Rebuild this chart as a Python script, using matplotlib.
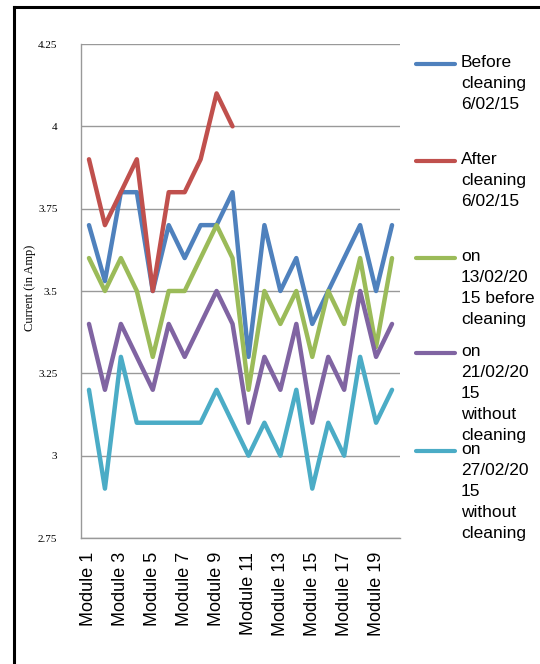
import matplotlib
matplotlib.use("Agg")
import matplotlib.pyplot as plt
from matplotlib.lines import Line2D

# categories
modules = ["Module %d" % i for i in range(1, 21)]

# series values (Amp)
before_0602 = [3.7, 3.53, 3.8, 3.8, 3.5, 3.7, 3.6, 3.7, 3.7, 3.8,
               3.3, 3.7, 3.5, 3.6, 3.4, 3.5, 3.6, 3.7, 3.5, 3.7]
after_0602 = [3.9, 3.7, 3.8, 3.9, 3.5, 3.8, 3.8, 3.9, 4.1, 4.0]
on_1302 = [3.6, 3.5, 3.6, 3.5, 3.3, 3.5, 3.5, 3.6, 3.7, 3.6,
           3.2, 3.5, 3.4, 3.5, 3.3, 3.5, 3.4, 3.6, 3.33, 3.6]
on_2102 = [3.4, 3.2, 3.4, 3.3, 3.2, 3.4, 3.3, 3.4, 3.5, 3.4,
           3.1, 3.3, 3.2, 3.4, 3.1, 3.3, 3.2, 3.5, 3.3, 3.4]
on_2702 = [3.2, 2.9, 3.3, 3.1, 3.1, 3.1, 3.1, 3.1, 3.2, 3.1,
           3.0, 3.1, 3.0, 3.2, 2.9, 3.1, 3.0, 3.3, 3.1, 3.2]

series = [before_0602, after_0602, on_1302, on_2102, on_2702]
labels = ["Before\ncleaning\n6/02/15",
          "After\ncleaning\n6/02/15",
          "on\n13/02/20\n15 before\ncleaning",
          "on\n21/02/20\n15\nwithout\ncleaning",
          "on\n27/02/20\n15\nwithout\ncleaning"]
colors = ["#4F81BD", "#C0504D", "#9BBB59", "#8064A2", "#4BACC6"]
yticks = [2.75, 3, 3.25, 3.5, 3.75, 4, 4.25]
ytick_labels = ["2.75", "3", "3.25", "3.5", "3.75", "4", "4.25"]

W, H = 540, 664
fig = plt.figure(figsize=(W / 100, H / 100), dpi=100)
ax = fig.add_axes([81 / W, 1 - 538 / H, (400 - 81) / W, (538 - 44) / H])

x = list(range(len(modules)))
for vals, c in zip(series, colors):
    ax.plot(x[:len(vals)], vals, color=c, lw=3.2, solid_joinstyle="round",
            solid_capstyle="round", zorder=3)

ax.set_xlim(-0.5, len(modules) - 0.5)
ax.set_ylim(2.75, 4.25)
ax.set_yticks(yticks)
ax.set_yticklabels(ytick_labels, family="Liberation Serif", fontsize=8)
ax.set_xticks(x[::2])
ax.set_xticklabels(modules[::2], rotation=90, family="Liberation Sans",
                   fontsize=13)
ax.tick_params(axis="both", length=0)
ax.tick_params(axis="y", pad=17)
ax.tick_params(axis="x", pad=10)
ax.grid(axis="y", color="#999999", lw=1)
ax.set_axisbelow(True)
for s in ["top", "right"]:
    ax.spines[s].set_visible(False)
for s in ["left", "bottom"]:
    ax.spines[s].set_color("#999999")
    ax.spines[s].set_linewidth(1)

fig.text(30 / W, 1 - 288 / H, "Current (in Amp)", rotation=90,
         family="Liberation Serif", fontsize=9, ha="center", va="center")

# legend drawn by hand (entries are anchored at their first line)
entry_y = [64, 161, 258, 353, 451]
for yy, lab, c in zip(entry_y, labels, colors):
    fy = 1 - yy / H
    fig.add_artist(Line2D([416 / W, 455 / W], [fy, fy], color=c, lw=3,
                          solid_capstyle="round"))
    fig.text(461 / W, 1 - (yy - 9) / H, lab, family="Liberation Sans",
             fontsize=12.5, ha="left", va="top", linespacing=1.5)

# outer frame
fig.add_artist(Line2D([14 / W, 1], [1 - 7 / H, 1 - 7 / H], color="black", lw=2.2))
fig.add_artist(Line2D([14 / W, 14 / W], [0, 1 - 7 / H], color="black", lw=2.2))

fig.savefig("out.png", dpi=100)
